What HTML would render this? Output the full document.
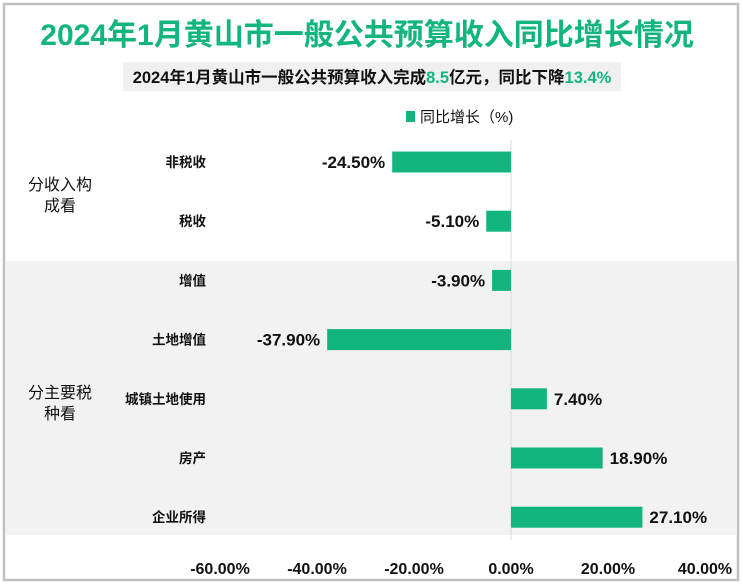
<!DOCTYPE html>
<html><head><meta charset="utf-8"><style>
body{margin:0;width:743px;height:584px;background:#fff;font-family:"Liberation Sans","Noto Sans CJK SC",sans-serif;overflow:hidden}
</style></head><body>
<svg width="743" height="584" style="position:absolute;left:0;top:0">
<rect x="4" y="4" width="734" height="576" fill="#fff" stroke="#bfbfbf" stroke-width="2.5"/>
<rect x="6" y="261" width="731" height="274" fill="#f2f2f2"/>
<text x="367" y="45" text-anchor="middle" font-size="30" font-weight="bold" fill="#13b57e">2024年1月黄山市一般公共预算收入同比增长情况</text>
<rect x="123" y="62" width="498" height="29" fill="#f0f0f0"/>
<text x="372" y="83" text-anchor="middle" font-size="16.5" font-weight="bold" fill="#111">2024年1月黄山市一般公共预算收入完成<tspan fill="#13b57e">8.5</tspan>亿元，同比下降<tspan fill="#13b57e">13.4%</tspan></text>
<rect x="406" y="111" width="9" height="11" fill="#13b57e"/>
<text x="420" y="122" font-size="15" fill="#111">同比增长（%)</text>
<line x1="511" y1="140" x2="511" y2="540" stroke="#d9d9d9"/>
<text x="60" y="190" text-anchor="middle" font-size="16" fill="#111"><tspan x="60">分收入构</tspan><tspan x="60" dy="21">成看</tspan></text>
<text x="60" y="398" text-anchor="middle" font-size="16" fill="#111"><tspan x="60">分主要税</tspan><tspan x="60" dy="21">种看</tspan></text>
<g id="bars"></g><g id="xt"></g>
</svg>
<script>
const categories=["非税收","税收","增值","土地增值","城镇土地使用","房产","企业所得"];
const values=[-24.5,-5.1,-3.9,-37.9,7.4,18.9,27.1];
const ticks=[-60,-40,-20,0,20,40];
const NS="http://www.w3.org/2000/svg";
const x=v=>511+v*4.85;
const y=i=>162+i*59.2;
const g=document.getElementById('bars');
function mk(t,a,p){const e=document.createElementNS(NS,t);for(const k in a)e.setAttribute(k,a[k]);p.appendChild(e);return e;}
categories.forEach((c,i)=>{
 const v=values[i],cy=y(i);
 const r=mk('rect',{x:Math.min(x(0),x(v)),y:cy-10.5,width:Math.abs(x(v)-x(0)),height:21,fill:'#13b57e'},g);
 
 
 const l=mk('text',{x:206,y:cy+5,'text-anchor':'end','font-size':13.5,'font-weight':'bold',fill:'#111'},g);l.textContent=c;
 
 
 const t=mk('text',{x:v<0?x(v)-7:x(v)+7,y:cy+6,'text-anchor':v<0?'end':'start','font-size':17,'font-weight':'bold',fill:'#111'},g);
 t.textContent=v.toFixed(2)+'%';
 
 
});
const xt=document.getElementById('xt');
ticks.forEach(v=>{const t=mk('text',{x:x(v),y:574,'text-anchor':'middle','font-size':16,'font-weight':'bold',fill:'#111'},xt);
 t.textContent=v.toFixed(2)+'%';
 
 });
</script>
</body></html>
